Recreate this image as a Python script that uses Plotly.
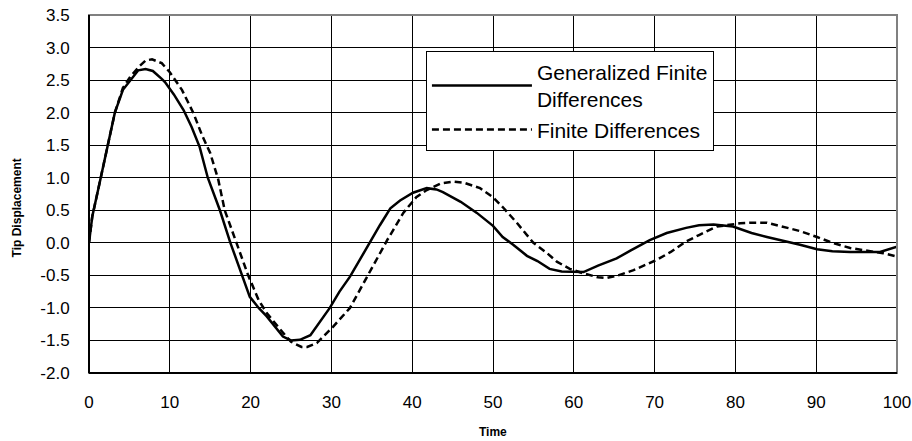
import plotly.graph_objects as go

# Generalized Finite Differences (solid)
t_gfd = [0, 0.4, 1.4, 2.3, 3.2, 4.2, 5.1, 6.1, 7.0, 7.9, 9.0, 9.4, 10.5, 11.7, 12.7, 13.7,
         14.7, 16.2, 17.5, 18.9, 19.9, 21.0, 22.0, 24.0, 25.0, 26.1, 27.4, 29.8, 31.0, 32.3,
         34.4, 36.0, 37.3, 38.5, 40.1, 41.8, 43.0, 43.8, 46.0, 48.0, 50.0, 51.2, 52.5, 54.2,
         55.5, 57.0, 58.5, 61.2, 63.0, 65.3, 67.0, 69.4, 71.5, 73.9, 75.5, 77.3, 79.7, 82.0,
         83.9, 86.0, 88.0, 90.1, 92.0, 94.2, 97.9, 100]
y_gfd = [0.0, 0.4, 0.97, 1.48, 2.0, 2.35, 2.5, 2.65, 2.67, 2.64, 2.52, 2.47, 2.28, 2.04, 1.78, 1.47,
         1.0, 0.5, 0.0, -0.5, -0.83, -1.0, -1.13, -1.44, -1.5, -1.49, -1.42, -1.0, -0.75, -0.52,
         -0.06, 0.27, 0.53, 0.65, 0.77, 0.84, 0.82, 0.78, 0.63, 0.46, 0.26, 0.09, -0.03, -0.2,
         -0.28, -0.4, -0.44, -0.45, -0.35, -0.24, -0.12, 0.04, 0.15, 0.23, 0.27, 0.28, 0.25, 0.15,
         0.09, 0.03, -0.03, -0.1, -0.13, -0.14, -0.14, -0.06]

# Finite Differences (dashed)
t_fd = [0, 0.4, 1.4, 2.3, 3.2, 4.2, 5.1, 6.3, 7.0, 7.8, 9.0, 10.0, 11.5, 12.9, 14.0, 15.0,
        16.0, 16.8, 18.3, 19.7, 21.0, 22.0, 24.0, 25.0, 26.3, 27.0, 28.2, 30.2, 32.3, 34.4,
        36.9, 38.9, 40.5, 41.8, 43.5, 45.1, 46.5, 48.4, 50.0, 51.2, 53.0, 55.0, 56.7, 57.9,
        59.5, 61.2, 63.0, 64.1, 65.5, 67.4, 70.3, 72.0, 73.9, 75.5, 77.7, 80.6, 82.0, 83.9,
        85.9, 88.0, 90.1, 92.0, 94.2, 96.0, 98.3, 100]
y_fd = [0.0, 0.4, 0.97, 1.48, 2.0, 2.38, 2.55, 2.72, 2.8, 2.82, 2.76, 2.62, 2.35, 2.0, 1.65, 1.38,
        0.97, 0.5, 0.0, -0.5, -0.88, -1.08, -1.38, -1.52, -1.6, -1.6, -1.54, -1.29, -1.0, -0.52,
        0.04, 0.46, 0.7, 0.81, 0.91, 0.94, 0.92, 0.84, 0.7, 0.55, 0.3, 0.0, -0.16, -0.29,
        -0.4, -0.47, -0.53, -0.54, -0.5, -0.42, -0.26, -0.14, 0.02, 0.12, 0.25, 0.3, 0.31, 0.31,
        0.25, 0.18, 0.09, 0.0, -0.08, -0.12, -0.16, -0.21]

x_ticks = [0, 10, 20, 30, 40, 50, 60, 70, 80, 90, 100]
y_ticks = [-2.0, -1.5, -1.0, -0.5, 0.0, 0.5, 1.0, 1.5, 2.0, 2.5, 3.0, 3.5]

FONT = "Liberation Sans, Arial, sans-serif"

fig = go.Figure()
fig.add_trace(go.Scatter(x=t_gfd, y=y_gfd, mode="lines",
                         name="Generalized Finite<br>Differences",
                         line=dict(color="black", width=2.5)))
fig.add_trace(go.Scatter(x=t_fd, y=y_fd, mode="lines",
                         name="Finite Differences",
                         line=dict(color="black", width=2.5, dash="7px,4px")))

fig.update_layout(
    width=912, height=441,
    margin=dict(l=89, r=15, t=15, b=68),
    paper_bgcolor="white", plot_bgcolor="white",
    font=dict(family=FONT, color="black", size=16),
    showlegend=True,
    legend=dict(x=0.417, y=0.9, xanchor="left", yanchor="top",
                bgcolor="white", bordercolor="black", borderwidth=1,
                font=dict(family=FONT, size=21, color="black"),
                itemwidth=100),
    xaxis=dict(range=[0, 100], tickvals=x_ticks, ticktext=[str(v) for v in x_ticks],
               showgrid=True, gridcolor="black", gridwidth=1,
               showline=True, linecolor="black", linewidth=1,
               zeroline=False, ticks="", ticklabelstandoff=14, automargin=False,
               tickfont=dict(size=17)),
    yaxis=dict(range=[-2, 3.5], tickvals=y_ticks, ticktext=[f"{v:.1f}" for v in y_ticks],
               showgrid=True, gridcolor="black", gridwidth=1,
               showline=True, linecolor="black", linewidth=1,
               zeroline=False, ticks="", ticklabelstandoff=15, automargin=False,
               tickfont=dict(size=17)),
    annotations=[
        dict(text="<b>Time</b>", xref="paper", yref="paper", x=0.5, y=-0.165,
             xanchor="center", yanchor="middle", showarrow=False,
             font=dict(family=FONT, size=12, color="black")),
        dict(text="<b>Tip Displacement</b>", xref="paper", yref="paper", x=-0.089, y=0.46,
             xanchor="center", yanchor="middle", showarrow=False, textangle=-90,
             font=dict(family=FONT, size=12, color="black")),
    ],
)
fig.add_shape(type="rect", xref="paper", yref="paper", x0=0, x1=1, y0=0, y1=1,
              line=dict(color="#808080", width=2), layer="above")
fig.add_shape(type="line", xref="paper", yref="paper", x0=0, x1=0, y0=0, y1=1,
              line=dict(color="black", width=2), layer="above")
fig.add_shape(type="line", xref="paper", yref="paper", x0=0, x1=1, y0=0, y1=0,
              line=dict(color="black", width=2), layer="above")

fig.write_html("out.html",
               config={"displayModeBar": False},
               post_script="document.body.style.margin='0px';document.body.style.overflow='hidden';")
